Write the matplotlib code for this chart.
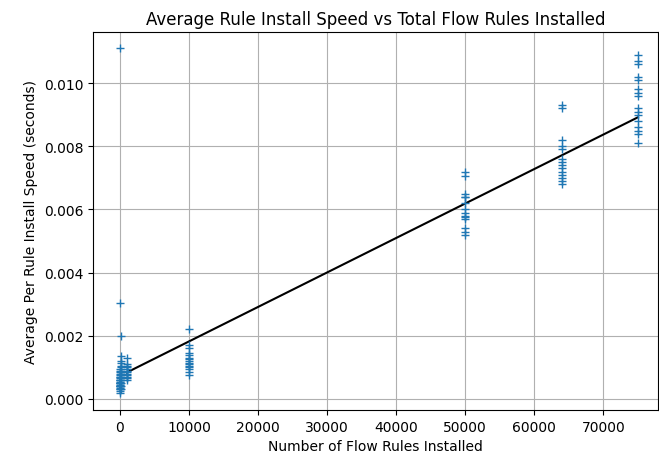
import numpy as np
from matplotlib import pyplot as plt

# 每组实验的规则数量与测得的平均安装时间（秒）
rule_counts = [1, 10, 100, 1000, 10000, 50000, 64000, 75000]

speeds_1 = [0.0111, 0.0009, 0.0006, 0.0005, 0.0004, 0.0003, 0.0005, 0.0007, 0.0004,
            0.0006, 0.0002, 0.00035, 0.00045, 0.00055, 0.00065]
speeds_10 = [0.00305, 0.0008, 0.0005, 0.0004, 0.0003, 0.0006, 0.0005, 0.0004, 0.0007,
             0.00025, 0.00085, 0.00075, 0.00095]
speeds_100 = [0.00198, 0.00135, 0.0012, 0.0010, 0.0009, 0.0008, 0.0007, 0.0006, 0.0005,
              0.0004, 0.0003, 0.00105, 0.00115, 0.00085]
speeds_1000 = [0.0013, 0.0011, 0.0010, 0.0009, 0.00085, 0.0008, 0.00075, 0.0007,
               0.00065, 0.0006, 0.00095, 0.00105]
speeds_10000 = [0.0022, 0.0017, 0.0016, 0.00145, 0.0014, 0.0013, 0.00125, 0.0012,
                0.00115, 0.0011, 0.00105, 0.001, 0.00095, 0.00085, 0.00077]
speeds_50000 = [0.0072, 0.00705, 0.0065, 0.0064, 0.0064, 0.0062, 0.006, 0.0059,
                0.0058, 0.00575, 0.0057, 0.0054, 0.0053, 0.0052]
speeds_64000 = [0.0093, 0.0092, 0.0082, 0.0080, 0.0079, 0.0076, 0.0075, 0.0074,
                0.0073, 0.0072, 0.0071, 0.0070, 0.0069, 0.0068]
speeds_75000 = [0.0109, 0.0107, 0.0106, 0.0102, 0.0101, 0.0098, 0.0097, 0.0096,
                0.0092, 0.0091, 0.0090, 0.0088, 0.0086, 0.0085, 0.0084, 0.0081]

all_speeds = [speeds_1, speeds_10, speeds_100, speeds_1000,
              speeds_10000, speeds_50000, speeds_64000, speeds_75000]

# 拟合直线
fit_intercept = 0.00073
fit_slope = 1.092e-7
fit_range = [1000, 75000]

xs, ys = [], []
for n, speeds in zip(rule_counts, all_speeds):
    for s in speeds:
        xs.append(n)
        ys.append(s)

fig = plt.figure(dpi=100, figsize=(6.59, 4.64))
ax = fig.add_axes([93 / 659, 1 - 411 / 464, 565 / 659, 378 / 464])

line_x = np.array(fit_range)
ax.plot(line_x, fit_intercept + fit_slope * line_x, c='black', zorder=2)
ax.plot(xs, ys, '+', zorder=3)

ax.set_xlim(-3900, 77900)
ax.set_ylim(-0.00035, 0.01162)
ax.grid(True)
ax.set_title('Average Rule Install Speed vs Total Flow Rules Installed', fontsize=12)
ax.set_xlabel('Number of Flow Rules Installed')
ax.set_ylabel('Average Per Rule Install Speed (seconds)')

plt.savefig('out.png')
